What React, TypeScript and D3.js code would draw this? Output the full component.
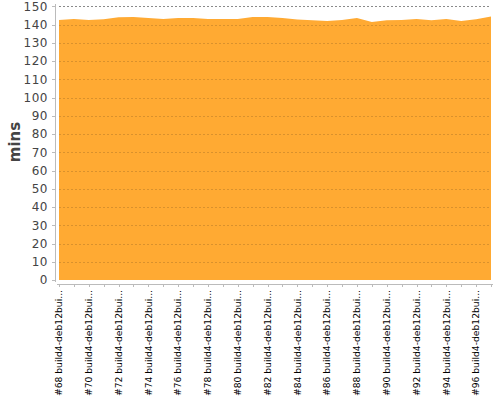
import React from "react";
import * as d3 from "d3";

const builds: number[] = [68,69,70,71,72,73,74,75,76,77,78,79,80,81,82,83,84,85,86,87,88,89,90,91,92,93,94,95,96,97];
const minutes: number[] = [
  142.5, 143.1, 142.6, 143.0, 144.0, 144.2, 143.6, 143.1, 143.6, 143.6,
  143.1, 143.1, 143.1, 144.2, 144.2, 143.6, 142.8, 142.4, 142.0, 142.6,
  143.6, 141.4, 142.4, 142.6, 143.1, 142.4, 143.1, 142.0, 143.0, 144.4,
];
const yTicks: number[] = d3.range(0, 151, 10);
const labelSuffix = " build4-deb12bui...";
const yLabel = "mins";

export default function App() {
  const W = 500, H = 400;
  const x = d3.scalePoint<number>().domain(builds).range([59, 491]);
  const y = d3.scaleLinear().domain([0, 150]).range([280, 6.4]);
  const data = builds.map((b, i) => ({ b, v: minutes[i] }));
  const area = d3.area<{ b: number; v: number }>()
    .x(d => x(d.b) as number)
    .y0(y(0))
    .y1(d => y(d.v));
  const font = "'DejaVu Sans', sans-serif";
  return (
    <svg width={W} height={H} style={{ position: "absolute", left: 0, top: 0 }}>
      <rect width={W} height={H} fill="#fff" />
      {/* area */}
      <path d={area(data) || ""} fill="#FFAA33" />
      {/* gridlines */}
      {yTicks.map(t => (
        <line key={"g" + t} x1={59} x2={491} y1={Math.round(y(t)) + 0.5} y2={Math.round(y(t)) + 0.5}
          stroke={t === 0 ? "none" : t === 150 ? "#8a8a8a" : "#c0802a"} strokeOpacity={t === 150 ? 1 : 0.6}
          strokeDasharray="2,2" strokeWidth={1} />
      ))}
      {/* y axis */}
      <line x1={55.5} x2={55.5} y1={4} y2={282} stroke="#bbb" strokeWidth={1} />
      {yTicks.map(t => (
        <g key={"y" + t}>
          <line x1={52} x2={55} y1={Math.round(y(t)) + 0.5} y2={Math.round(y(t)) + 0.5} stroke="#bbb" />
          <text x={48} y={y(t)} dy="0.36em" textAnchor="end" fontFamily={font} fontSize={12} fill="#444" letterSpacing="0.5">{t}</text>
        </g>
      ))}
      <text transform={`translate(20,142) rotate(-90)`} textAnchor="middle" fontFamily={font} fontSize={15} fontWeight="bold" fill="#444">{yLabel}</text>
      {/* x axis */}
      <line x1={57} x2={493} y1={284.5} y2={284.5} stroke="#bbb" strokeWidth={1} />
      {builds.map(b => (
        <line key={"xt" + b} x1={Math.round(x(b) as number) + 0.5} x2={Math.round(x(b) as number) + 0.5} y1={284} y2={287} stroke="#bbb" />
      ))}
      {builds.filter((_, i) => i % 2 === 0).map(b => (
        <text key={"xl" + b} transform={`translate(${x(b) as number},290) rotate(-90)`} textAnchor="end" dy="0.35em"
          fontFamily={font} fontSize={9.2} fill="#000">{`#${b}${labelSuffix}`}</text>
      ))}
    </svg>
  );
}
